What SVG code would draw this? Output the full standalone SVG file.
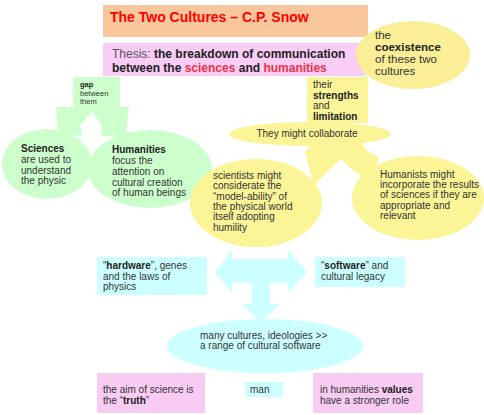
<svg xmlns="http://www.w3.org/2000/svg" width="484" height="415" viewBox="0 0 484 415">
<style>
text{font-family:"Liberation Sans",Arial,sans-serif;font-size:10px;fill:#333}
.b{font-weight:bold;fill:#222}
.g{fill:#ccffcc}
.y{fill:#fbf597}
.c{fill:#ccffff}
.p{fill:#f7cbf2}
.red{fill:#ee3345}
.s{font-size:7.5px}
.m{font-size:11.5px}
</style>
<rect width="484" height="415" fill="#fff"/>
<g id="title">
<rect x="103" y="5" width="265" height="32" fill="#fac69c"/>
<text x="110" y="22" style="font-size:14px;font-weight:bold;fill:#ff0000">The Two Cultures – C.P. Snow</text>
</g>
<g id="thesis">
<rect x="103" y="43" width="262" height="33" fill="#f9cdf6"/>
<text x="112" y="58" style="font-size:12px"><tspan fill="#555">Thesis: </tspan><tspan class="b">the breakdown of communication</tspan></text>
<text x="112" y="72" style="font-size:12px" class="b">between the <tspan class="red">sciences</tspan> and <tspan class="red">humanities</tspan></text>
</g>
<g id="coexistence">
<ellipse cx="413" cy="55" rx="57" ry="34" fill="#faee96"/>
<text x="375" y="39" class="m">the</text>
<text x="375" y="51" class="m b">coexistence</text>
<text x="375" y="63" class="m">of these two</text>
<text x="375" y="75" class="m">cultures</text>
</g>
<g id="connectors">
<polygon class="g" points="73,77 120,77 120,107 129,107 126,136 101,136 102,125 92,112 80,125 82,136 58,136 56,107 73,107"/>
<polygon class="y" points="312,143 362,143 366,150 379,157 372,182 355,172 341,159 327,172 314,186 305,152"/>
<polygon class="c" points="215,272 232,250 232,259 288,259 288,250 307,272 288,293 288,283 270,283 270,304 280,304 261,322 242,304 252,304 252,283 232,283 232,293"/>
</g>
<g id="gap">
<text x="80" y="87" class="s b">gap</text>
<text x="80" y="95.5" class="s">between</text>
<text x="80" y="104" class="s">them</text>
</g>
<g id="sciences">
<ellipse class="g" cx="47" cy="164" rx="45" ry="35"/>
<text x="21" y="152" class="b">Sciences</text>
<text x="21" y="163">are used to</text>
<text x="21" y="174">understand</text>
<text x="21" y="184">the physic</text>
</g>
<g id="humanities">
<ellipse class="g" cx="150" cy="169" rx="62" ry="39"/>
<text x="112" y="153" class="b">Humanities</text>
<text x="112" y="164">focus the</text>
<text x="112" y="175">attention on</text>
<text x="112" y="186">cultural creation</text>
<text x="112" y="196">of human beings</text>
</g>
<g id="strengths">
<rect class="y" x="307" y="77" width="61" height="46"/>
<text x="313" y="88">their</text>
<text x="313" y="99" class="b">strengths</text>
<text x="313" y="109">and</text>
<text x="313" y="120" class="b">limitation</text>
</g>
<g id="collaborate">
<ellipse class="y" cx="310" cy="134" rx="81" ry="12"/>
<text x="307" y="137" text-anchor="middle">They might collaborate</text>
</g>
<g id="scientists">
<ellipse class="y" cx="256" cy="203" rx="66" ry="44"/>
<text x="213" y="179">scientists might</text>
<text x="213" y="189">considerate  the</text>
<text x="213" y="200">“model-ability” of</text>
<text x="213" y="210">the physical world</text>
<text x="213" y="220">itself adopting</text>
<text x="213" y="231">humility</text>
</g>
<g id="humanists">
<ellipse class="y" cx="418" cy="198" rx="66" ry="42"/>
<text x="380" y="178">Humanists might</text>
<text x="380" y="188">incorporate the results</text>
<text x="380" y="198">of sciences if they are</text>
<text x="380" y="209">appropriate and</text>
<text x="380" y="219">relevant</text>
</g>
<g id="hardware">
<rect class="c" x="97" y="257" width="110" height="38"/>
<text x="103" y="269">“<tspan class="b">hardware</tspan>”, genes</text>
<text x="103" y="280">and the laws of</text>
<text x="103" y="290">physics</text>
</g>
<g id="software">
<rect class="c" x="315" y="257" width="90" height="30"/>
<text x="321" y="269">“<tspan class="b">software</tspan>” and</text>
<text x="321" y="280">cultural legacy</text>
</g>
<g id="cultures">
<ellipse class="c" cx="265" cy="346" rx="98" ry="27"/>
<text x="200" y="339">many cultures, ideologies &gt;&gt;</text>
<text x="200" y="349">a range of cultural software</text>
</g>
<g id="truth">
<rect class="p" x="97" y="373" width="108" height="40"/>
<text x="103" y="393">the aim of science is</text>
<text x="103" y="404">the “<tspan class="b">truth</tspan>”</text>
</g>
<g id="man">
<rect class="c" x="245" y="382" width="38" height="15"/>
<text x="250" y="393">man</text>
</g>
<g id="values">
<rect class="p" x="313" y="373" width="110" height="40"/>
<text x="320" y="393">in humanities <tspan class="b">values</tspan></text>
<text x="320" y="404">have a stronger role</text>
</g>
</svg>
